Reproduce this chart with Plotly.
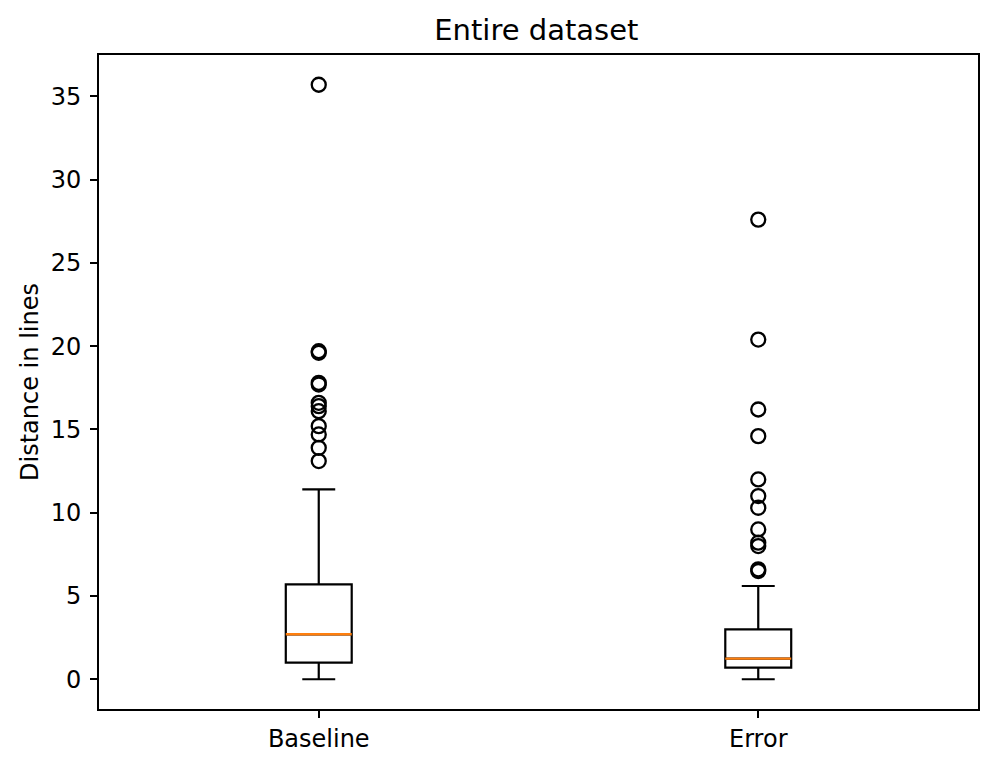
import plotly.graph_objects as go

# box statistics
categories = ["Baseline", "Error"]
positions = [1, 2]
q1 = [1.0, 0.7]
median = [2.7, 1.24]
q3 = [5.7, 3.0]
lower_fence = [0.0, 0.0]
upper_fence = [11.4, 5.6]

baseline_outliers = [35.7, 19.7, 19.6, 17.8, 17.7, 16.6, 16.4, 16.1, 15.2, 14.7, 13.9, 13.1]
error_outliers = [27.6, 20.4, 16.2, 14.6, 12.0, 11.0, 10.3, 9.0, 8.2, 8.0, 6.6, 6.5]

y_ticks = [0, 5, 10, 15, 20, 25, 30, 35]

box_width = 0.15
font = "DejaVu Sans"

fig = go.Figure()

fig.add_trace(go.Box(
    x=positions, q1=q1, median=median, q3=q3,
    lowerfence=lower_fence, upperfence=upper_fence,
    width=box_width, whiskerwidth=0.5, boxpoints=False,
    line=dict(color="black", width=2.2), fillcolor="rgba(0,0,0,0)",
    hoverinfo="skip", showlegend=False,
))

# orange median lines like matplotlib
for pos, med in zip(positions, median):
    fig.add_trace(go.Scatter(
        x=[pos - box_width / 2, pos + box_width / 2], y=[med, med],
        mode="lines", line=dict(color="#ff7f0e", width=2.4),
        showlegend=False, hoverinfo="skip",
    ))

# fliers
for pos, vals in zip(positions, [baseline_outliers, error_outliers]):
    fig.add_trace(go.Scatter(
        x=[pos] * len(vals), y=vals, mode="markers",
        marker=dict(symbol="circle-open", size=14, color="black", line=dict(width=2.3)),
        showlegend=False,
    ))

axis_style = dict(
    showline=True, linecolor="black", linewidth=1.7, mirror=True,
    ticks="outside", ticklen=7, tickwidth=1.7, tickcolor="black",
    showgrid=False, zeroline=False,
    tickfont=dict(family=font, size=24, color="black"),
)

fig.update_layout(
    width=996, height=769,
    plot_bgcolor="white", paper_bgcolor="white",
    margin=dict(l=99, r=18, t=55, b=60),
    title=dict(text="Entire dataset", x=0.5385, xanchor="center", y=0.961, yanchor="middle",
               font=dict(family=font, size=29, color="black")),
    xaxis=dict(range=[0.5, 2.5], tickvals=positions, ticktext=categories,
               ticklabelstandoff=0, **axis_style),
    yaxis=dict(range=[-1.785, 37.485], tickvals=y_ticks, ticklabelstandoff=4,
               title=dict(text="Distance in lines", standoff=5,
                          font=dict(family=font, size=24, color="black")),
               **axis_style),
)

fig.write_html("out.html", config={"displayModeBar": False},
               post_script="document.body.style.margin='0';")
